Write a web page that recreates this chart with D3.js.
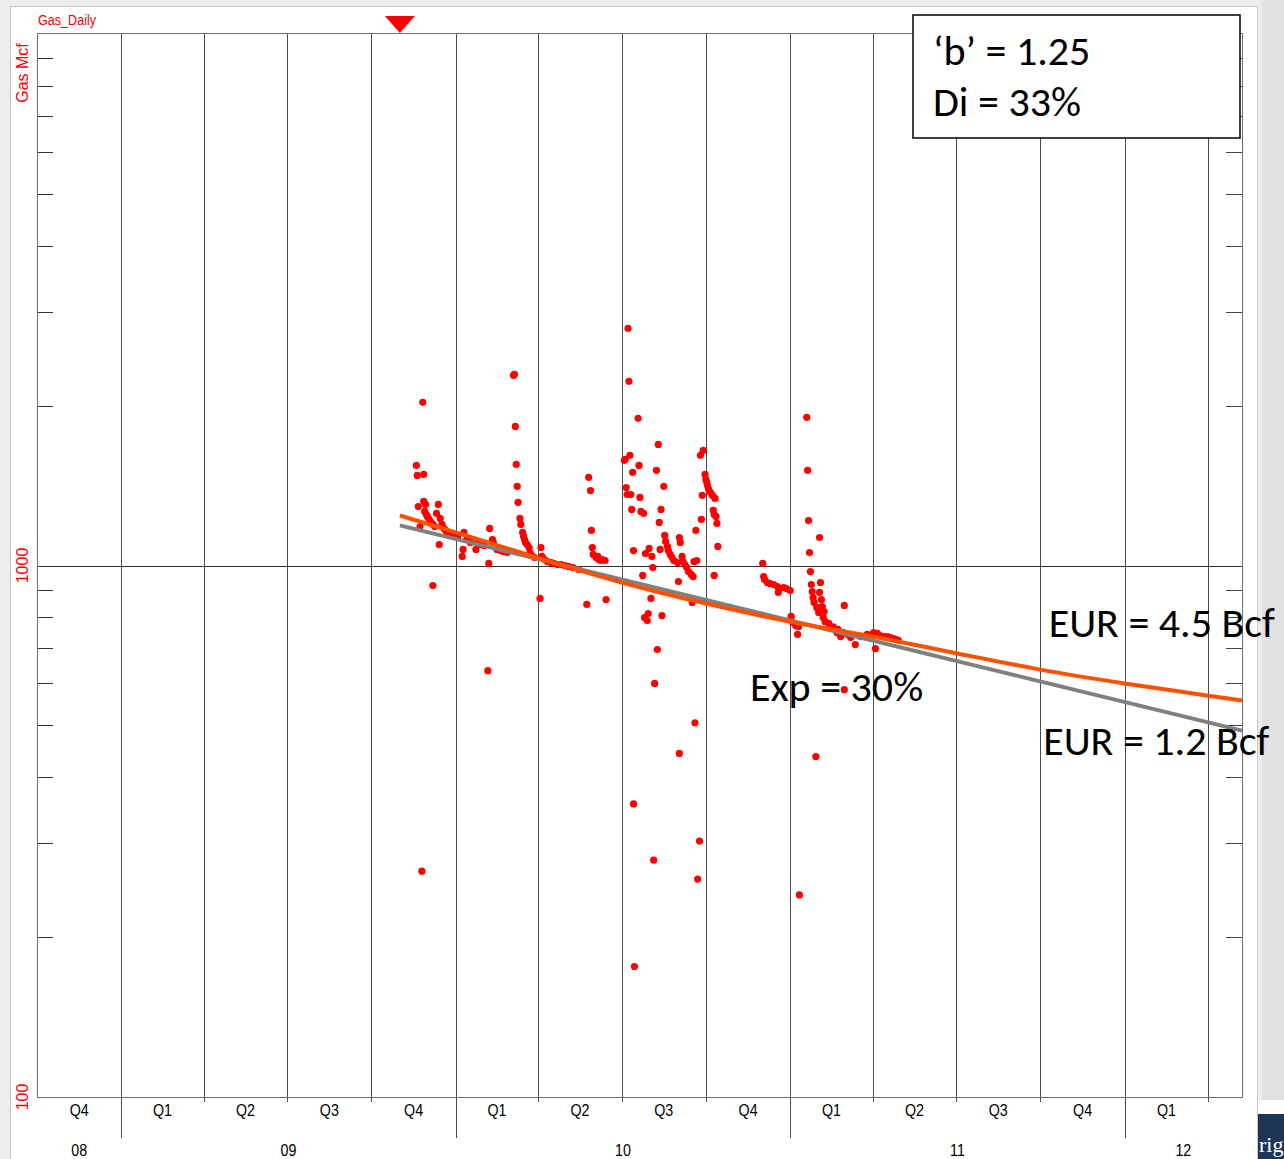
<!DOCTYPE html>
<html>
<head>
<meta charset="utf-8">
<script src="https://cdn.jsdelivr.net/npm/d3@7"></script>
<style>
  body { margin: 0; background: #ececec; }
  svg { display: block; }
  .narrow { font-family: "Liberation Sans", Arial, sans-serif; }
  .note { font-family: Carlito, Calibri, Lato, "Open Sans", sans-serif; fill: #000; }
</style>
</head>
<body>
<svg id="chart" width="1284" height="1159"></svg>
<script>
// Gas_Daily decline plot (log rate vs quarterly time) with two forecast curves.

// ---------- data ----------
const dailyDates = [
  "2009-11-19","2009-11-20","2009-11-21","2009-11-23","2009-11-25","2009-11-26","2009-11-27","2009-11-27",
  "2009-11-28","2009-11-29","2009-11-30","2009-12-01","2009-12-03","2009-12-05","2009-12-07","2009-12-07",
  "2009-12-09","2009-12-11","2009-12-13","2009-12-14","2009-12-15","2009-12-17","2009-12-19","2009-12-21",
  "2009-12-23","2009-12-27","2009-12-30","2010-01-03",
  "2010-01-08","2010-01-09","2010-01-10","2010-01-13","2010-01-17","2010-01-23","2010-01-25","2010-01-28",
  "2010-02-01","2010-02-05","2010-02-06","2010-02-07","2010-02-10","2010-02-11","2010-02-15","2010-02-19",
  "2010-02-22","2010-02-26",
  "2010-03-05","2010-03-06","2010-03-07","2010-03-08","2010-03-09","2010-03-10","2010-03-12","2010-03-13",
  "2010-03-15","2010-03-16","2010-03-17","2010-03-18","2010-03-20","2010-03-22","2010-03-23","2010-03-25",
  "2010-03-28",
  "2010-04-03","2010-04-04","2010-04-05","2010-04-08","2010-04-11","2010-04-15","2010-04-18","2010-04-22",
  "2010-04-26","2010-04-30","2010-05-04","2010-05-09","2010-05-15",
  "2010-05-24","2010-05-26","2010-05-28","2010-05-29","2010-05-30","2010-05-31","2010-06-03","2010-06-05",
  "2010-06-06","2010-06-08","2010-06-10","2010-06-13","2010-06-14",
  "2010-07-04","2010-07-05","2010-07-06","2010-07-07","2010-07-08","2010-07-09","2010-07-10","2010-07-11",
  "2010-07-12","2010-07-13","2010-07-14","2010-07-14","2010-07-15","2010-07-19","2010-07-20","2010-07-21",
  "2010-07-22","2010-07-24","2010-07-25","2010-07-26","2010-07-27","2010-07-29","2010-07-30","2010-07-31",
  "2010-08-02","2010-08-03","2010-08-04","2010-08-05","2010-08-06","2010-08-08","2010-08-09","2010-08-10",
  "2010-08-11","2010-08-12","2010-08-13","2010-08-14","2010-08-16","2010-08-17","2010-08-18","2010-08-20",
  "2010-08-21","2010-08-23","2010-08-25","2010-08-27","2010-08-31",
  "2010-09-01","2010-09-02","2010-09-02","2010-09-03","2010-09-05","2010-09-06","2010-09-08","2010-09-10",
  "2010-09-12","2010-09-15","2010-09-16","2010-09-17","2010-09-18","2010-09-19","2010-09-20","2010-09-21",
  "2010-09-22","2010-09-24","2010-09-25","2010-09-26","2010-09-27","2010-09-28","2010-09-30",
  "2010-10-01","2010-10-02","2010-10-03","2010-10-04","2010-10-06","2010-10-08","2010-10-09","2010-10-10",
  "2010-10-10","2010-10-11","2010-10-12","2010-10-13","2010-10-14",
  "2010-12-02","2010-12-03","2010-12-04","2010-12-07","2010-12-10","2010-12-14","2010-12-18","2010-12-19",
  "2010-12-20","2010-12-25","2010-12-28",
  "2011-01-01","2011-01-02","2011-01-04","2011-01-07","2011-01-09","2011-01-10","2011-01-11","2011-01-19",
  "2011-01-20","2011-01-21","2011-01-22","2011-01-23","2011-01-24","2011-01-25","2011-01-26","2011-01-27",
  "2011-01-29","2011-01-30","2011-02-01","2011-02-02","2011-02-02","2011-02-03","2011-02-04","2011-02-05",
  "2011-02-06","2011-02-07","2011-02-08","2011-02-12","2011-02-17","2011-02-21","2011-02-22","2011-02-25",
  "2011-02-28","2011-03-01","2011-03-01","2011-03-05","2011-03-08","2011-03-13","2011-03-19","2011-03-26",
  "2011-04-02","2011-04-04","2011-04-06","2011-04-09","2011-04-14","2011-04-17","2011-04-20","2011-04-23",
  "2011-04-26","2011-04-29"
];
const dailyRates = [
  1543,1477,1291,1184,266,2028,1484,1320,
  1264,1303,1247,1237,1221,1205,1195,917,
  1184,1253,1303,1095,1226,1195,1174,1164,
  1154,1150,1139,1129,
  1040,1072,1154,1119,1105,1072,1110,1095,
  1090,634,1009,1174,1119,1105,1072,1067,
  1063,1058,
  2279,2290,1827,1550,1409,1315,1226,1195,
  1154,1134,1119,1105,1095,1081,1058,1044,
  1035,
  867,1081,1040,1026,1017,1013,1009,1004,
  1004,1000,996,991,983,
  845,1465,1384,1164,1081,1049,1035,1040,
  1026,1022,1026,1022,863,
  1577,1584,1402,1360,2795,2221,1612,1360,
  1275,1497,1067,356,176,1892,1543,1343,
  1264,958,1253,798,1053,788,812,1077,
  867,1040,991,279,600,1510,695,1690,
  1205,1072,1275,805,1409,1139,1110,1086,
  1067,1049,1035,1022,1013,
  933,443,1129,1105,1040,1017,1004,991,
  974,962,852,953,1017,506,1164,1022,
  257,303,1612,1221,1355,1646,1484,
  1452,1433,1409,1390,1372,1355,1270,1247,
  958,1337,1237,1200,1086,
  1009,953,941,929,925,921,913,890,
  905,909,905,
  897,802,781,771,742,767,240,1900,
  1510,1215,1058,974,921,893,870,852,
  437,834,816,1129,890,929,863,837,
  798,819,784,778,767,748,758,735,
  748,841,584,742,732,710,735,742,
  748,698,745,738,735,735,732,729,
  726,723
];

// hyperbolic forecast (orange) and exponential forecast (grey)
const hypDates = ["2009-11-01","2010-01-01","2010-04-01","2010-07-01","2010-10-01","2011-01-01",
                  "2011-04-01","2011-07-01","2011-10-01","2012-01-01","2012-04-01","2012-05-08"];
const hypRates = [1242, 1154, 1033, 929, 848, 784, 735, 684, 637, 600, 569, 557];
const expDates = ["2009-11-01", "2012-05-08"];
const expRates = [1190, 489];

const forecastStart = "2009-11-01";
const yLabelValues = [100, 1000];
const yMinorValues = [200, 300, 400, 500, 600, 700, 800, 900, 2000, 3000, 4000, 5000, 6000, 7000, 8000, 9000];
const boxLines = ["\u2018b\u2019 = 1.25", "Di = 33%"];
const curveLabels = [
  { text: "EUR = 4.5 Bcf", date: "2011-10-10", rate: 735 },
  { text: "Exp = 30%", date: "2010-11-18", rate: 557 },
  { text: "EUR = 1.2 Bcf", date: "2011-10-04", rate: 440 }
];

// ---------- setup ----------
const parse = d3.utcParse("%Y-%m-%d");
const W = 1284, H = 1159;
const plot = { left: 37, right: 1242, top: 34, bottom: 1097 };
const tStart = parse("2008-10-01"), tEnd = parse("2012-05-08");

const x = d3.scaleUtc().domain([tStart, tEnd]).range([plot.left, plot.right]);
const y = d3.scaleLog().domain([100, 10000]).range([plot.bottom, plot.top]);
const px = (v) => Math.round(v) + 0.5;   // crisp 1px lines
const SQUEEZE = 0.84;                    // narrow-font look for the plot labels

const svg = d3.select("#chart");

// page / panel background (pasted-screenshot look)
svg.append("rect").attr("width", W).attr("height", H).attr("fill", "#ececec");
svg.append("rect").attr("x", 10.5).attr("y", 6.5).attr("width", 1247).attr("height", H)
  .attr("fill", "#fff").attr("stroke", "#c8c8c8");
svg.append("rect").attr("x", 1262).attr("y", 0).attr("width", 22).attr("height", H).attr("fill", "#e2e2e2");
svg.append("rect").attr("x", 1258).attr("y", 1100).attr("width", 26).attr("height", 14).attr("fill", "#fff");
svg.append("rect").attr("x", 1258).attr("y", 1114).attr("width", 26).attr("height", 45).attr("fill", "#1d3658");
svg.append("text").attr("x", 1259).attr("y", 1152).attr("fill", "#fff")
  .style("font-family", "'Liberation Serif', serif").style("font-size", "22px").text("rig");

// ---------- grid ----------
const quarters = d3.utcMonth.every(3).range(d3.utcDay.offset(tStart, 1), tEnd);
const g = svg.append("g");
g.selectAll("line.q").data(quarters).join("line")
  .attr("x1", (d) => px(x(d))).attr("x2", (d) => px(x(d)))
  .attr("y1", plot.top).attr("y2", (d) => d.getUTCMonth() === 0 ? 1138 : plot.bottom + 5)
  .attr("stroke", "#4a4a4a").attr("stroke-width", 1);

// 1000 line
g.append("line").attr("x1", plot.left).attr("x2", plot.right)
  .attr("y1", px(y(1000))).attr("y2", px(y(1000))).attr("stroke", "#333");

// minor ticks on both sides
g.selectAll("line.ml").data(yMinorValues).join("line")
  .attr("x1", plot.left).attr("x2", plot.left + 16)
  .attr("y1", (d) => px(y(d))).attr("y2", (d) => px(y(d))).attr("stroke", "#333");
g.selectAll("line.mr").data(yMinorValues).join("line")
  .attr("x1", plot.right - 16).attr("x2", plot.right)
  .attr("y1", (d) => px(y(d))).attr("y2", (d) => px(y(d))).attr("stroke", "#444");

// frame
svg.append("rect").attr("x", px(plot.left)).attr("y", px(plot.top - 1))
  .attr("width", plot.right - plot.left).attr("height", plot.bottom - plot.top + 1)
  .attr("fill", "none").attr("stroke", "#6e6e6e");

// ---------- axis labels ----------
const qStarts = d3.utcMonth.every(3).range(tStart, tEnd).filter((d) => d3.utcMonth.offset(d, 3) <= tEnd);
svg.append("g").attr("class", "narrow").selectAll("text").data(qStarts).join("text")
  .attr("transform", (d) => `translate(${(x(d) + x(d3.utcMonth.offset(d, 3))) / 2},1116) scale(${SQUEEZE},1)`)
  .attr("text-anchor", "middle").style("font-size", "17px").attr("fill", "#000")
  .text((d) => "Q" + (Math.floor(d.getUTCMonth() / 3) + 1));

const years = d3.utcYear.range(d3.utcYear.floor(tStart), tEnd);
svg.append("g").attr("class", "narrow").selectAll("text").data(years).join("text")
  .attr("transform", (d) => {
    const cx = (x(d3.max([d, tStart])) + x(d3.min([d3.utcYear.offset(d, 1), tEnd]))) / 2;
    return `translate(${cx},1156) scale(${SQUEEZE},1)`;
  })
  .attr("text-anchor", "middle").style("font-size", "17px").attr("fill", "#000")
  .text(d3.utcFormat("%y"));

svg.append("g").selectAll("text").data(yLabelValues).join("text")
  .attr("transform", (d) => `translate(28,${y(d)}) rotate(-90)`)
  .attr("text-anchor", "middle").attr("fill", "#f00")
  .style("font-family", "'Liberation Sans', Arial, sans-serif").style("font-size", "16px")
  .text((d) => d);

svg.append("text").attr("transform", "translate(28,73) rotate(-90)")
  .attr("text-anchor", "middle").attr("fill", "#f00")
  .style("font-family", "'Liberation Sans', Arial, sans-serif").style("font-size", "16px")
  .text("Gas Mcf");

svg.append("text").attr("class", "narrow").attr("transform", `translate(38,25) scale(${SQUEEZE},1)`)
  .attr("fill", "#f00").style("font-size", "15px").text("Gas_Daily");

// forecast start marker
const mx = x(parse(forecastStart));
svg.append("path").attr("d", `M${mx - 15},16 L${mx + 15},16 L${mx},33 Z`).attr("fill", "#f00");

// ---------- data points ----------
const pts = dailyDates.map((d, i) => ({ date: parse(d), rate: dailyRates[i] }));
svg.append("g").selectAll("circle").data(pts).join("circle")
  .attr("cx", (d) => x(d.date)).attr("cy", (d) => y(d.rate)).attr("r", 3.6).attr("fill", "#f00");

// ---------- forecast curves ----------
const line = d3.line().x((d) => x(d.date)).y((d) => y(d.rate)).curve(d3.curveMonotoneX);
const expPts = expDates.map((d, i) => ({ date: parse(d), rate: expRates[i] }));
const hypPts = hypDates.map((d, i) => ({ date: parse(d), rate: hypRates[i] }));
svg.append("path").attr("d", line(expPts)).attr("fill", "none")
  .attr("stroke", "#808080").attr("stroke-width", 4);
svg.append("path").attr("d", line(hypPts)).attr("fill", "none")
  .attr("stroke", "#ff5000").attr("stroke-width", 4);

// ---------- annotations ----------
svg.append("rect").attr("x", 913).attr("y", 15).attr("width", 327).attr("height", 123)
  .attr("fill", "#fff").attr("stroke", "#000").attr("stroke-width", 1.5);
svg.append("g").selectAll("text").data(boxLines).join("text")
  .attr("class", "note").attr("x", 933).attr("y", (d, i) => 65 + i * 51)
  .style("font-size", "42px").text((d) => d);

svg.append("g").selectAll("text").data(curveLabels).join("text")
  .attr("class", "note").attr("x", (d) => x(parse(d.date))).attr("y", (d) => y(d.rate))
  .style("font-size", "42px").text((d) => d.text);
</script>
</body>
</html>
